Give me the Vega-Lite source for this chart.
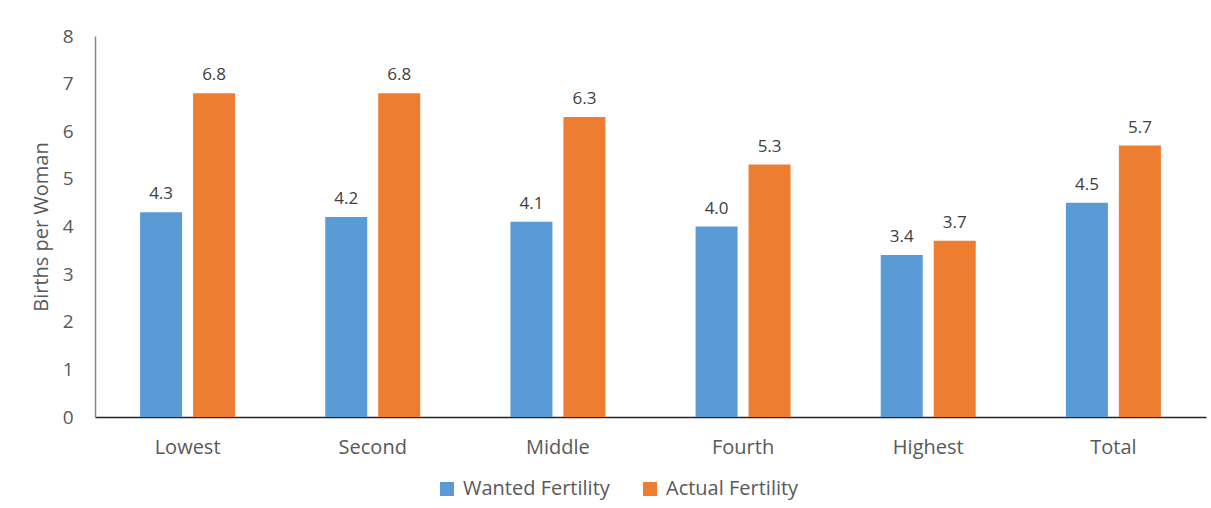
{
  "$schema": "https://vega.github.io/schema/vega-lite/v6.json",
  "width": 1111,
  "height": 381,
  "autosize": {"type": "none"},
  "padding": {"left": 95, "top": 36, "right": 5, "bottom": 91},
  "background": "white",
  "config": {
    "font": "Open Sans",
    "view": {"stroke": null},
    "axis": {"labelColor": "#595959", "titleColor": "#595959", "grid": false, "ticks": false}
  },
  "data": {
    "values": [
      {"group": "Lowest", "series": "Wanted Fertility", "value": 4.3},
      {"group": "Lowest", "series": "Actual Fertility", "value": 6.8},
      {"group": "Second", "series": "Wanted Fertility", "value": 4.2},
      {"group": "Second", "series": "Actual Fertility", "value": 6.8},
      {"group": "Middle", "series": "Wanted Fertility", "value": 4.1},
      {"group": "Middle", "series": "Actual Fertility", "value": 6.3},
      {"group": "Fourth", "series": "Wanted Fertility", "value": 4.0},
      {"group": "Fourth", "series": "Actual Fertility", "value": 5.3},
      {"group": "Highest", "series": "Wanted Fertility", "value": 3.4},
      {"group": "Highest", "series": "Actual Fertility", "value": 3.7},
      {"group": "Total", "series": "Wanted Fertility", "value": 4.5},
      {"group": "Total", "series": "Actual Fertility", "value": 5.7}
    ]
  },
  "encoding": {
    "x": {
      "field": "group", "type": "nominal", "sort": null,
      "scale": {"paddingInner": 0.487, "paddingOuter": 0.2435},
      "axis": {"title": null, "labelAngle": 0, "labelFontSize": 20, "labelPadding": 20, "domainColor": "#262626", "domainWidth": 1.5}
    },
    "xOffset": {
      "field": "series", "type": "nominal",
      "sort": ["Wanted Fertility", "Actual Fertility"],
      "scale": {"paddingInner": 0.2075}
    },
    "y": {
      "field": "value", "type": "quantitative",
      "scale": {"domain": [0, 8]},
      "axis": {"title": "Births per Woman", "tickCount": 8, "labelFontSize": 19, "labelPadding": 22, "titleFontSize": 20, "titleFontWeight": "normal", "titlePadding": 11, "domainColor": "#868686", "domainWidth": 1.5}
    }
  },
  "layer": [
    {
      "mark": {"type": "bar"},
      "encoding": {
        "color": {
          "field": "series", "type": "nominal",
          "sort": ["Wanted Fertility", "Actual Fertility"],
          "scale": {"domain": ["Wanted Fertility", "Actual Fertility"], "range": ["#5B9BD5", "#ED7D31"]},
          "legend": {
            "title": null, "orient": "none", "direction": "horizontal",
            "legendX": 342, "legendY": 443,
            "symbolType": "square", "symbolSize": 196, "symbolStrokeWidth": 0,
            "labelFontSize": 20, "labelColor": "#595959", "labelOffset": 6, "columnPadding": 30
          }
        }
      }
    },
    {
      "mark": {"type": "text", "baseline": "bottom", "dy": -9, "fontSize": 17, "color": "#404040"},
      "encoding": {
        "text": {"field": "value", "type": "quantitative", "format": ".1f"}
      }
    }
  ]
}
